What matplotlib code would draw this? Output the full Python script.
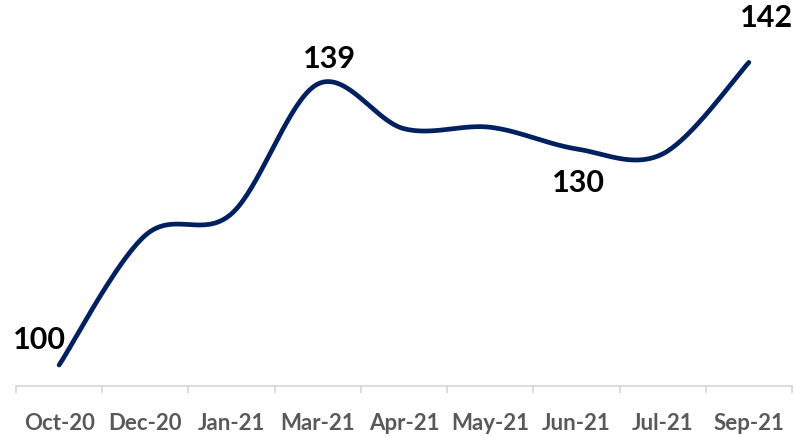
import numpy as np
import matplotlib
matplotlib.use("Agg")
import matplotlib.pyplot as plt

months = ["Oct-20", "Dec-20", "Jan-21", "Mar-21", "Apr-21", "May-21", "Jun-21", "Jul-21", "Sep-21"]
values = [100, 118, 121, 139, 132.8, 133, 130, 129.3, 142]
labelled = [0, 3, 6, 8]
# label offsets in pixels (dx, dy) from the point
label_offsets = {0: (-20, 26), 3: (12, 26), 6: (2, -33), 8: (18, 45)}

LINE_COLOR = "#002060"
AXIS_COLOR = "#d9d9d9"
TICK_COLOR = "#595959"
FONT = "Lato"


def smooth(x, y, n=40):
    # Catmull-Rom curve through the points (like Excel's smoothed line)
    px = np.concatenate([[x[0]], x, [x[-1]]])
    py = np.concatenate([[y[0]], y, [y[-1]]])
    xs, ys = [], []
    t = np.linspace(0, 1, n)
    for i in range(1, len(px) - 2):
        for p, out in ((px, xs), (py, ys)):
            p0, p1, p2, p3 = p[i - 1], p[i], p[i + 1], p[i + 2]
            m1 = (p2 - p0) / 2
            m2 = (p3 - p1) / 2
            h00 = 2 * t**3 - 3 * t**2 + 1
            h10 = t**3 - 2 * t**2 + t
            h01 = -2 * t**3 + 3 * t**2
            h11 = t**3 - t**2
            out.extend(h00 * p1 + h10 * m1 + h01 * p2 + h11 * m2)
    return np.array(xs), np.array(ys)


fig = plt.figure(figsize=(7.94, 4.39), dpi=100)
ax = fig.add_axes([16 / 794, 1 - 387 / 439, 776 / 794, 387 / 439])

x = np.arange(len(months), dtype=float)
sx, sy = smooth(x, np.array(values, dtype=float))
ax.plot(sx, sy, color=LINE_COLOR, lw=3.4, solid_capstyle="round", clip_on=False)

ax.set_xlim(-0.5, len(months) - 0.5)
ax.set_ylim(97.09, 150.8)

for i in labelled:
    dx, dy = label_offsets[i]
    ax.annotate(f"{values[i]:.0f}", (x[i], values[i]), xytext=(dx * 0.72, dy * 0.72),
                textcoords="offset points", ha="center", va="center",
                fontsize=22, fontweight="bold", family=FONT, color="black",
                annotation_clip=False)

for s in ["top", "right", "left"]:
    ax.spines[s].set_visible(False)
ax.spines["bottom"].set_color(AXIS_COLOR)
ax.spines["bottom"].set_linewidth(1.3)
ax.set_yticks([])
ax.set_xticks(x)
ax.set_xticklabels(months, fontsize=16, fontweight="bold", family=FONT, color=TICK_COLOR)
ax.set_xticks(np.arange(-0.5, len(months)), minor=True)
ax.tick_params(axis="x", which="major", length=0, pad=19)
ax.tick_params(axis="x", which="minor", length=5, width=1.3, color=AXIS_COLOR)

fig.savefig("out.png", dpi=100)
